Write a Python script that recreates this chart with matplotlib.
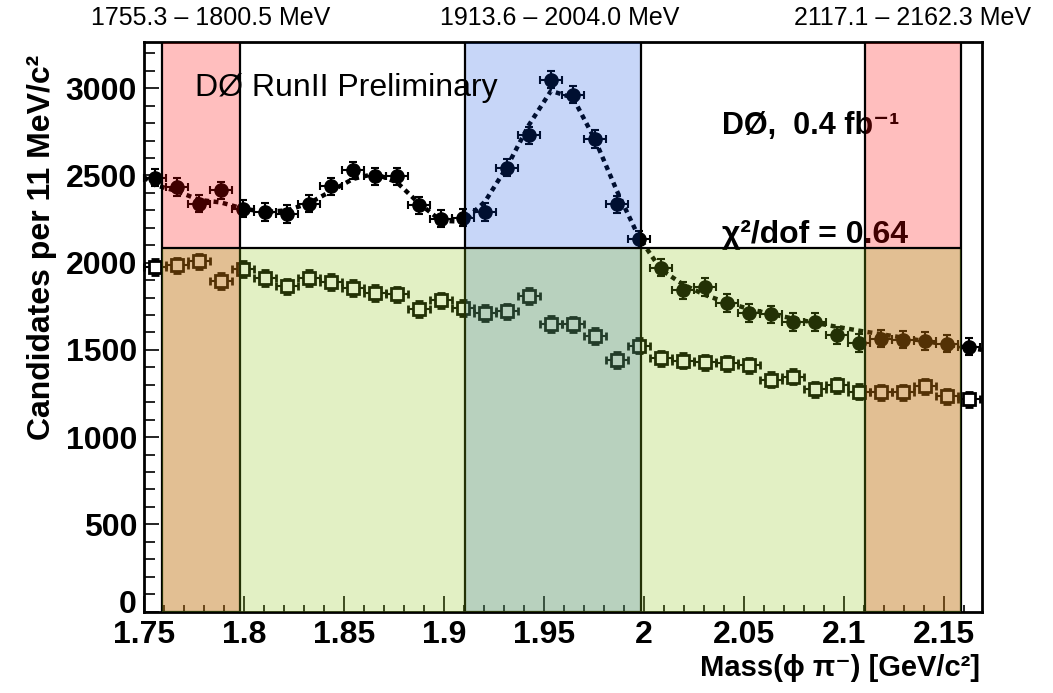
import numpy as np
import matplotlib
matplotlib.use('Agg')
import matplotlib.pyplot as plt
from matplotlib.patches import Rectangle
from matplotlib.ticker import MultipleLocator
from matplotlib.transforms import ScaledTranslation

plt.rcParams['font.family'] = ['Liberation Sans', 'DejaVu Sans']

# 38 bins of 11 MeV starting at 1.75 GeV
mass = 1.7555 + 0.011 * np.arange(38)

# filled circles: data with the fit
signal_counts = [2488, 2433, 2338, 2414, 2309, 2290, 2280, 2338, 2437, 2529,
                 2494, 2494, 2328, 2252, 2258, 2290, 2544, 2729, 3049, 2963,
                 2710, 2334, 2133, 1971, 1841, 1860, 1768, 1711, 1703, 1659,
                 1659, 1583, 1539, 1564, 1558, 1550, 1535, 1519]
signal_err = 50

# open squares
other_counts = [1974, 1984, 2007, 1894, 1965, 1911, 1864, 1911, 1888, 1856,
                1825, 1818, 1736, 1783, 1741, 1713, 1720, 1810, 1650, 1646,
                1580, 1440, 1525, 1451, 1439, 1428, 1422, 1411, 1330, 1347,
                1273, 1296, 1261, 1256, 1256, 1290, 1233, 1216]
other_err = 45

# dotted fit curve, read at the axis edges and the bin centres
fit_mass = np.concatenate([[1.750], mass, [2.169]])
fit_vals = [2490, 2445, 2410, 2360, 2345, 2310, 2290, 2300, 2340, 2410, 2480,
            2510, 2460, 2340, 2240, 2235, 2350, 2550, 2790, 2985, 2945,
            2705, 2410, 2145, 1960, 1875, 1815, 1770, 1735, 1705, 1680,
            1655, 1632, 1610, 1590, 1570, 1550, 1530, 1512, 1500]

# mass windows (GeV) and labels
sidebands = [(1.7588, 1.798), (2.1105, 2.1584)]
signal_window = (1.9105, 1.9985)
lower_band_top = 2085
window_labels = ['1755.3 – 1800.5 MeV', '1913.6 – 2004.0 MeV', '2117.1 – 2162.3 MeV']
window_label_x = [211, 560, 912]

fig = plt.figure(figsize=(10.53, 6.93), dpi=100)
ax = fig.add_axes([144 / 1053, 1 - 611.5 / 693, 838 / 1053, 569.5 / 693])

ax.errorbar(mass, other_counts, xerr=0.0055, yerr=other_err, fmt='s',
            color='black', mfc='white', mec='black', mew=2, ms=9,
            capsize=3, elinewidth=1.5, capthick=1.5, zorder=3, clip_on=False)
ax.plot(fit_mass, fit_vals, color='black', lw=3.2, ls=(0, (1.1, 1.0)), zorder=3)
ax.errorbar(mass, signal_counts, xerr=0.0055, yerr=signal_err, fmt='o',
            color='black', ms=9.5, capsize=3, elinewidth=1.5, capthick=1.5,
            zorder=3, clip_on=False)

# shaded windows drawn over everything like the original slide
for lo, hi in sidebands:
    ax.axvspan(lo, hi, facecolor=(1.0, 0.0, 0.0, 0.255), edgecolor='black',
               lw=1.6, zorder=4)
ax.axvspan(signal_window[0], signal_window[1], facecolor=(0.0, 0.27, 0.89, 0.22),
           edgecolor='black', lw=1.6, zorder=4)
ax.add_patch(Rectangle((sidebands[0][0], 0), sidebands[1][1] - sidebands[0][0],
                       lower_band_top, facecolor=(0.55, 0.77, 0.08, 0.25),
                       edgecolor='none', zorder=5))
ax.hlines(lower_band_top, sidebands[0][0], sidebands[1][1], color='black',
          lw=1.6, zorder=6)

ax.text(2.039, 2739, 'DØ,  0.4 fb⁻¹', fontsize=22, fontweight='bold',
        va='baseline', zorder=3)
ax.text(2.039, 2110, 'χ²/dof = 0.64', fontsize=23, fontweight='bold',
        va='baseline', zorder=3)
ax.text(1.7755, 2999, 'DØ RunII Preliminary', fontsize=23, va='center', zorder=10)

ax.set_xlim(1.75, 2.169)
ax.set_ylim(0, 3265)
ax.xaxis.set_major_locator(MultipleLocator(0.05))
ax.xaxis.set_minor_locator(MultipleLocator(0.01))
ax.yaxis.set_major_locator(MultipleLocator(500))
ax.yaxis.set_minor_locator(MultipleLocator(100))
ax.set_xticks([1.75, 1.8, 1.85, 1.9, 1.95, 2.0, 2.05, 2.1, 2.15])
ax.set_xticklabels(['1.75', '1.8', '1.85', '1.9', '1.95', '2', '2.05', '2.1', '2.15'])
ax.set_yticks([0, 500, 1000, 1500, 2000, 2500, 3000])
ax.tick_params(which='both', direction='in', width=1.2, labelsize=23)
ax.tick_params(axis='x', which='major', length=11.5, pad=6)
ax.tick_params(axis='x', which='minor', length=5)
ax.tick_params(axis='y', which='major', length=11, pad=5)
ax.tick_params(axis='y', which='minor', length=8)
for lab in ax.get_xticklabels() + ax.get_yticklabels():
    lab.set_fontweight('bold')
for sp in ax.spines.values():
    sp.set_linewidth(2)

# lift the "0" label above the x labels, as ROOT does
zero = ax.yaxis.get_major_ticks()[0].label1
zero.set_transform(zero.get_transform() + ScaledTranslation(0, 7 / 72, fig.dpi_scale_trans))

fig.text(42 / 1053, 1 - 247 / 693, 'Candidates per 11 MeV/c²', rotation=90,
         fontsize=23, fontweight='bold', ha='center', va='center')
fig.text(980 / 1053, 1 - 668 / 693, 'Mass(ϕ π⁻) [GeV/c²]', fontsize=21,
         fontweight='bold', ha='right', va='center')
for label, px in zip(window_labels, window_label_x):
    fig.text(px / 1053, 1 - 18 / 693, label, fontsize=18, ha='center', va='center')

fig.savefig('out.png', dpi=100)
